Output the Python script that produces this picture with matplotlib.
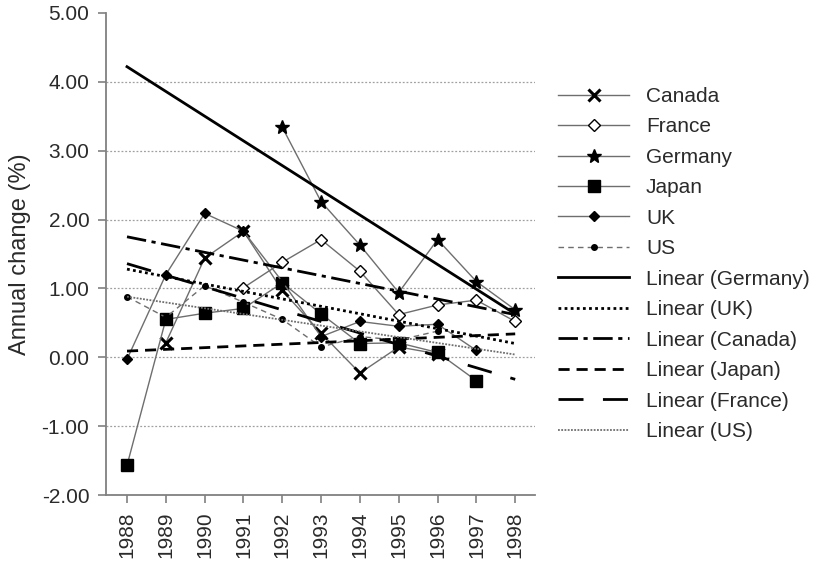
import numpy as np
import matplotlib
matplotlib.use("Agg")
import matplotlib.pyplot as plt

plt.rcParams['font.family'] = ['Liberation Sans', 'DejaVu Sans']

# data (nan = tidak ada data)
nan = np.nan
years = [1988, 1989, 1990, 1991, 1992, 1993, 1994, 1995, 1996, 1997, 1998]

canada = [nan, 0.21, 1.44, 1.83, 0.97, 0.35, -0.23, 0.15, 0.05, nan, nan]
france = [nan, nan, nan, 1.01, 1.38, 1.71, 1.25, 0.62, 0.76, 0.83, 0.52]
germany = [nan, nan, nan, nan, 3.34, 2.26, 1.63, 0.94, 1.71, 1.10, 0.69]
japan = [-1.57, 0.55, 0.64, 0.71, 1.08, 0.63, 0.20, 0.21, 0.07, -0.34, nan]
uk = [-0.03, 1.20, 2.09, 1.83, 1.10, 0.30, 0.52, 0.45, 0.48, 0.10, nan]
us = [0.88, 0.58, 1.04, 0.80, 0.55, 0.15, 0.30, 0.25, 0.38, nan, nan]

# garis tren linear: nilai awal (1988) dan akhir (1998)
trend_years = [1988, 1998]
germany_trend = [4.22, 0.63]
uk_trend = [1.28, 0.20]
canada_trend = [1.75, 0.62]
japan_trend = [0.09, 0.34]
france_trend = [1.36, -0.32]
us_trend = [0.88, 0.04]

y_ticks = [-2, -1, 0, 1, 2, 3, 4, 5]

fig = plt.figure(figsize=(8.31, 5.72), dpi=100)
# area plot: x 106..535 px, y 13..495 px
ax = fig.add_axes([0.1276, 0.1346, 0.5162, 0.8427])

gray = '#6e6e6e'
txt = '#2a2a2a'

# data per negara
ax.plot(years, canada, color=gray, lw=1, marker='x', ms=8, mew=2.2,
        mec='black', label='Canada')
ax.plot(years, france, color=gray, lw=1, marker='D', ms=6, mfc='white',
        mec='black', mew=1, label='France')
ax.plot(years, germany, color=gray, lw=1, marker='*', ms=10, mfc='black',
        mec='black', label='Germany')
ax.plot(years, japan, color=gray, lw=1, marker='s', ms=8, mfc='black',
        mec='black', label='Japan')
ax.plot(years, uk, color=gray, lw=1, marker='D', ms=5, mfc='black',
        mec='black', label='UK')
ax.plot(years, us, color=gray, lw=1, ls=(0, (4, 3)), marker='o', ms=4,
        mfc='black', mec='black', label='US')

# garis tren
ax.plot(trend_years, germany_trend, color='black', lw=2, label='Linear (Germany)')
ax.plot(trend_years, uk_trend, color='black', lw=2, ls=(0, (1, 1.2)), label='Linear (UK)')
ax.plot(trend_years, canada_trend, color='black', lw=2, ls=(0, (7, 2, 1.5, 2)),
        label='Linear (Canada)')
ax.plot(trend_years, japan_trend, color='black', lw=2, ls=(0, (4, 2.5)), label='Linear (Japan)')
ax.plot(trend_years, france_trend, color='black', lw=2, ls=(0, (9, 7)), label='Linear (France)')
ax.plot(trend_years, us_trend, color=gray, lw=1.3, ls=(0, (1, 0.8)), label='Linear (US)')

# sumbu
ax.set_xlim(1987.46, 1998.51)
ax.set_ylim(-2, 5)
ax.set_xticks(years)
ax.set_xticklabels([str(y) for y in years], rotation=90)
ax.set_yticks(y_ticks)
ax.set_yticklabels(['%.2f' % v for v in y_ticks])
ax.tick_params(labelsize=15, labelcolor=txt, length=6, width=1.2,
               color='#808080', pad=6)

for s in ['top', 'right']:
    ax.spines[s].set_visible(False)
for s in ['left', 'bottom']:
    ax.spines[s].set_color('#808080')
    ax.spines[s].set_linewidth(1.3)

# gridline hanya -1.00 sampai 4.00
for v in y_ticks[1:-1]:
    ax.axhline(v, color='#a0a0a0', lw=0.9, ls=(0, (1.5, 1.5)), zorder=0)

ax.set_ylabel('Annual change (%)', fontsize=17, color=txt, labelpad=8)

leg = fig.legend(loc='upper left', bbox_to_anchor=(0.672, 0.848),
                 bbox_transform=fig.transFigure, frameon=False,
                 fontsize=15, handlelength=3.4, handletextpad=0.8,
                 labelspacing=0.55, borderpad=0, borderaxespad=0)
for t in leg.get_texts():
    t.set_color(txt)

fig.savefig('out.png', dpi=100)
